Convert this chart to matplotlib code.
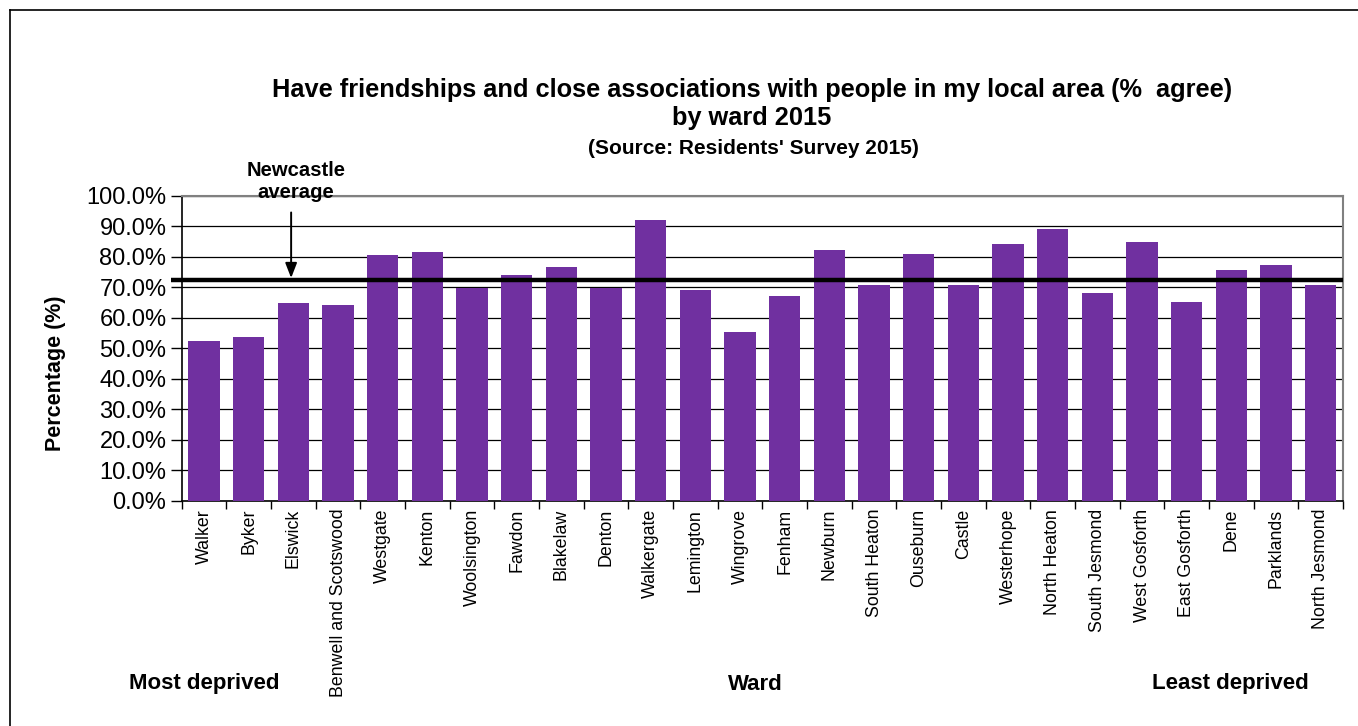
import matplotlib
matplotlib.use("Agg")
import matplotlib.pyplot as plt
from matplotlib.lines import Line2D
from matplotlib.ticker import FixedLocator, FuncFormatter
import numpy as np

plt.rcParams['font.family'] = ['Liberation Sans', 'DejaVu Sans']

wards = ["Walker", "Byker", "Elswick", "Benwell and Scotswood", "Westgate", "Kenton",
         "Woolsington", "Fawdon", "Blakelaw", "Denton", "Walkergate", "Lemington",
         "Wingrove", "Fenham", "Newburn", "South Heaton", "Ouseburn", "Castle",
         "Westerhope", "North Heaton", "South Jesmond", "West Gosforth", "East Gosforth",
         "Dene", "Parklands", "North Jesmond"]
agree_pct = [52.4, 53.7, 64.7, 64.0, 80.5, 81.6,
             69.8, 74.1, 76.6, 69.8, 91.9, 69.0,
             55.2, 67.2, 82.3, 70.6, 80.9, 70.6,
             84.1, 89.0, 68.2, 84.8, 65.0,
             75.7, 77.1, 70.6]
newcastle_avg = 72.5
y_ticks = [0, 10, 20, 30, 40, 50, 60, 70, 80, 90, 100]

W, H = 1358, 726
fig = plt.figure(figsize=(W / 100, H / 100), dpi=100)
fig.patch.set_facecolor("white")

ax = fig.add_axes([181.7 / W, 1 - 500.5 / H, (1343 - 181.7) / W, (500.5 - 195.7) / H])
x = np.arange(len(wards))
ax.bar(x, agree_pct, width=0.70, color="#7030A0", zorder=3)

ax.set_xlim(-0.5, len(wards) - 0.5)
ax.set_ylim(0, 100)

# horizontal grid
ax.yaxis.set_major_locator(FixedLocator(y_ticks))
ax.yaxis.set_major_formatter(FuncFormatter(lambda v, p: f"{v:.1f}%"))
ax.grid(axis="y", color="black", linewidth=0.9, zorder=1)
ax.set_axisbelow(True)
ax.tick_params(axis="y", direction="out", length=8, width=1, labelsize=17, pad=3, colors="black")

# category labels centred on bars, tick marks between categories
ax.set_xticks(x)
ax.set_xticklabels(wards, rotation=90, fontsize=12.8, va="top", ha="center")
ax.tick_params(axis="x", which="major", length=0, pad=6)
ax.set_xticks(np.arange(-0.5, len(wards)), minor=True)
ax.tick_params(axis="x", which="minor", direction="out", length=6, width=1, color="black")

for side in ("top", "right"):
    ax.spines[side].set_color("#808080")
    ax.spines[side].set_linewidth(1.5)
for side in ("left", "bottom"):
    ax.spines[side].set_color("black")
    ax.spines[side].set_linewidth(1.2)

# city-wide average line, extending slightly past the axis on the left
ax.plot([-0.73, len(wards) - 0.5], [newcastle_avg, newcastle_avg], color="black",
        linewidth=3.2, zorder=4, clip_on=False, solid_capstyle="butt")

# arrow pointing at the average line
ax.annotate("", xy=(1.95, newcastle_avg + 0.5), xytext=(1.95, 94.5),
            arrowprops=dict(arrowstyle="-|>,head_length=0.9,head_width=0.35",
                            color="black", lw=1.4, shrinkA=0, shrinkB=0),
            zorder=5, annotation_clip=False)

# text in figure pixel coordinates
def ftext(px, py, s, **kw):
    fig.text(px / W, 1 - py / H, s, ha="center", va="center", **kw)

ftext(752, 90, "Have friendships and close associations with people in my local area (%  agree)",
      fontsize=18.3, fontweight="bold")
ftext(752, 118, "by ward 2015", fontsize=18.3, fontweight="bold")
ftext(753, 148, "(Source: Residents' Survey 2015)", fontsize=15, fontweight="bold")
ftext(296, 170, "Newcastle", fontsize=14.6, fontweight="bold")
ftext(296, 192, "average", fontsize=14.6, fontweight="bold")
ftext(56, 373, "Percentage (%)", fontsize=15.5, fontweight="bold", rotation=90)
ftext(204, 684, "Most deprived", fontsize=16, fontweight="bold")
ftext(755, 684, "Ward", fontsize=16, fontweight="bold")
ftext(1230, 684, "Least deprived", fontsize=16, fontweight="bold")

# outer frame (left and top edges)
fig.add_artist(Line2D([10 / W, 10 / W], [0, 1 - 10 / H], color="black", linewidth=1.2,
                      transform=fig.transFigure))
fig.add_artist(Line2D([10 / W, 1], [1 - 10 / H, 1 - 10 / H], color="black", linewidth=1.2,
                      transform=fig.transFigure))

fig.savefig("out.png", dpi=100, facecolor="white")
